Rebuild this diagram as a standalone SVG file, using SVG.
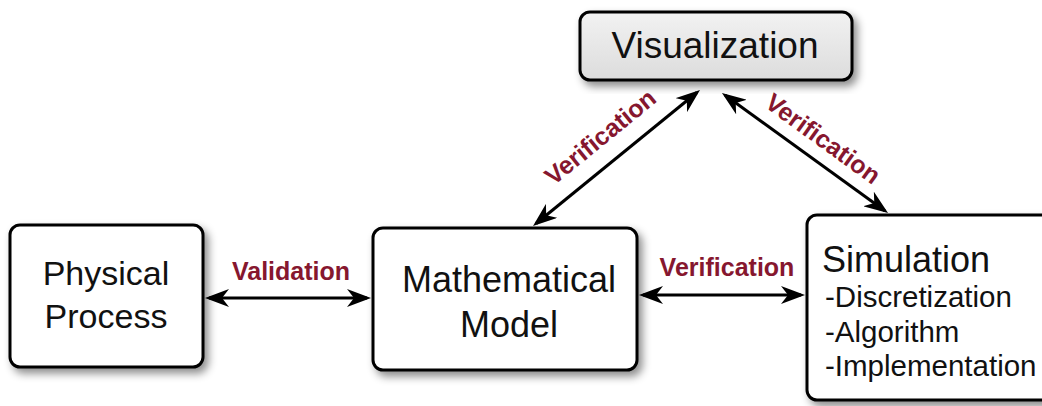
<svg xmlns="http://www.w3.org/2000/svg" width="1042" height="406" viewBox="0 0 1042 406">
<defs>
<filter id="sh" x="-10%" y="-10%" width="130%" height="130%">
<feDropShadow dx="4" dy="5" stdDeviation="4" flood-color="#000" flood-opacity="0.45"/>
</filter>
<linearGradient id="gv" x1="0" y1="0" x2="0" y2="1">
<stop offset="0" stop-color="#f2f2f2"/>
<stop offset="1" stop-color="#dcdcdc"/>
</linearGradient>
<marker id="ah" viewBox="0 0 24 18" refX="20" refY="9" markerWidth="24" markerHeight="18" markerUnits="userSpaceOnUse" orient="auto-start-reverse">
<path d="M0,0 L24,9 L0,18 L7,9 Z" fill="#000"/>
</marker>
<style>
.box{fill:#fff;stroke:#000;stroke-width:3;filter:url(#sh)}
.t{font-family:"Liberation Sans",Arial,sans-serif;fill:#111}
.lbl{font-family:"Liberation Sans",Arial,sans-serif;font-weight:bold;font-size:25px;fill:#86172f}
.c{stroke:#000;stroke-width:3;fill:none;marker-start:url(#ah);marker-end:url(#ah)}
</style>
</defs>
<rect width="1042" height="406" fill="#fff"/>
<g id="connectors">
<line class="c" x1="209" y1="298" x2="367" y2="298"/>
<line class="c" x1="643" y1="295" x2="801" y2="295"/>
<line class="c" x1="536.1" y1="223.5" x2="696.9" y2="92.5"/>
<line class="c" x1="725.2" y1="95.3" x2="884.8" y2="210.7"/>
<text class="lbl" x="291" y="280" text-anchor="middle">Validation</text>
<text class="lbl" x="727" y="276" text-anchor="middle" font-size="26">Verification</text>
<text class="lbl" text-anchor="middle" transform="translate(605.7,143.7) rotate(-39.2)">Verification</text>
<text class="lbl" text-anchor="middle" transform="translate(818,145.6) rotate(35.9)">Verification</text>
</g>
<g id="visualization">
<rect class="box" x="580" y="12" width="272" height="68" rx="10" style="fill:url(#gv)"/>
<text class="t" x="715" y="58" font-size="37" text-anchor="middle">Visualization</text>
</g>
<g id="physical">
<rect class="box" x="10" y="225" width="193" height="142" rx="10"/>
<text class="t" x="106" y="285" font-size="34" text-anchor="middle">Physical</text>
<text class="t" x="106" y="328" font-size="34" text-anchor="middle">Process</text>
</g>
<g id="math">
<rect class="box" x="373" y="228" width="264" height="142" rx="10"/>
<text class="t" x="509" y="292" font-size="36" text-anchor="middle">Mathematical</text>
<text class="t" x="509" y="337" font-size="36" text-anchor="middle">Model</text>
</g>
<g id="simulation">
<rect class="box" x="807" y="215" width="245" height="185" rx="10"/>
<text class="t" x="822" y="272" font-size="36">Simulation</text>
<text class="t" x="825" y="307" font-size="29.5">-Discretization</text>
<text class="t" x="825" y="342" font-size="29.5">-Algorithm</text>
<text class="t" x="825" y="376" font-size="29.5">-Implementation</text>
</g>
</svg>
